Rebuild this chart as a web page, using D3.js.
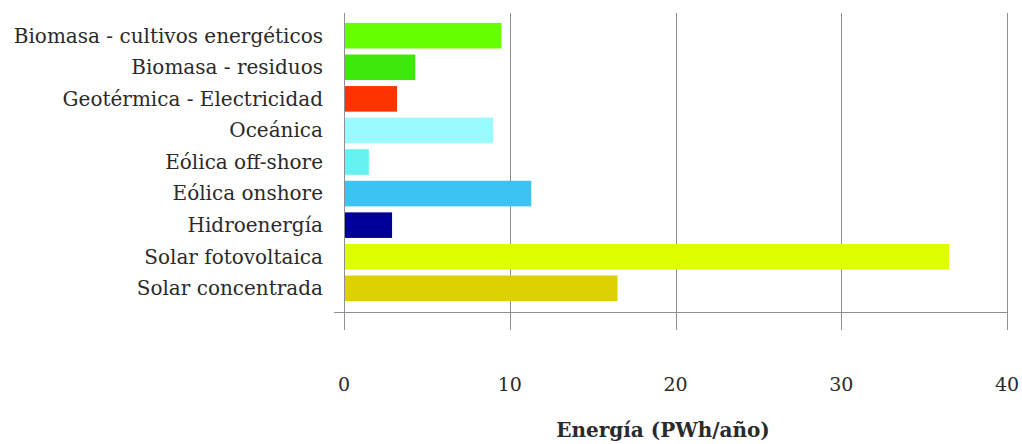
<!DOCTYPE html>
<html>
<head>
<meta charset="utf-8">
<script src="https://cdn.jsdelivr.net/npm/d3@7"></script>
<style>
  html, body { margin: 0; padding: 0; background: #ffffff; }
  svg { display: block; }
  text { font-family: "DejaVu Serif", "Liberation Serif", serif; fill: #2a2a2a; }
</style>
</head>
<body>
<svg id="chart" width="1022" height="444"></svg>
<script>
const categories = [
  "Biomasa - cultivos energéticos",
  "Biomasa - residuos",
  "Geotérmica - Electricidad",
  "Oceánica",
  "Eólica off-shore",
  "Eólica onshore",
  "Hidroenergía",
  "Solar fotovoltaica",
  "Solar concentrada"
];
const values = [9.5, 4.3, 3.2, 9.0, 1.5, 11.3, 2.9, 36.5, 16.5];
const barColors = ["#66ff00", "#3ee80c", "#ff3300", "#99fbff", "#66f2f2", "#3cc3f3", "#000099", "#ddff00", "#dcd000"];
const xTicks = [0, 10, 20, 30, 40];
const xTitle = "Energía (PWh/año)";

const svg = d3.select("#chart");
const plot = { left: 344, right: 1007, top: 13, bottom: 312 };

const x = d3.scaleLinear().domain([0, 40]).range([plot.left, plot.right]);
const y = d3.scaleBand().domain(categories).range([plot.top - 0.5, plot.bottom - 0.5])
  .paddingInner(0.19).paddingOuter(0.33);

// vertical gridlines (extend below baseline as ticks)
svg.append("g").selectAll("line").data(xTicks).join("line")
  .attr("x1", d => Math.round(x(d)) + 0.5).attr("x2", d => Math.round(x(d)) + 0.5)
  .attr("y1", plot.top).attr("y2", 330)
  .attr("stroke", "#8f8f8f").attr("stroke-width", 1);

// baseline
svg.append("line")
  .attr("x1", 334).attr("x2", plot.right)
  .attr("y1", plot.bottom + 0.5).attr("y2", plot.bottom + 0.5)
  .attr("stroke", "#8f8f8f").attr("stroke-width", 1);

// bars
svg.append("g").selectAll("rect").data(categories).join("rect")
  .attr("x", x(0) + 1)
  .attr("y", d => y(d))
  .attr("width", (d, i) => x(values[i]) - x(0) - 1)
  .attr("height", y.bandwidth())
  .attr("fill", (d, i) => barColors[i]);

// category labels
svg.append("g").selectAll("text").data(categories).join("text")
  .attr("x", 323)
  .attr("y", d => y(d) + y.bandwidth() / 2)
  .attr("dy", "0.34em")
  .attr("text-anchor", "end")
  .attr("font-size", "20px")
  .text(d => d);

// x tick labels
svg.append("g").selectAll("text").data(xTicks).join("text")
  .attr("x", d => x(d))
  .attr("y", 391)
  .attr("text-anchor", "middle")
  .attr("font-size", "19px")
  .attr("fill", "#333")
  .text(d => d);

// x title
svg.append("text")
  .attr("x", 663)
  .attr("y", 437)
  .attr("text-anchor", "middle")
  .attr("font-size", "20px")
  .attr("font-weight", "bold")
  .attr("fill", "#222")
  .text(xTitle);
</script>
</body>
</html>
